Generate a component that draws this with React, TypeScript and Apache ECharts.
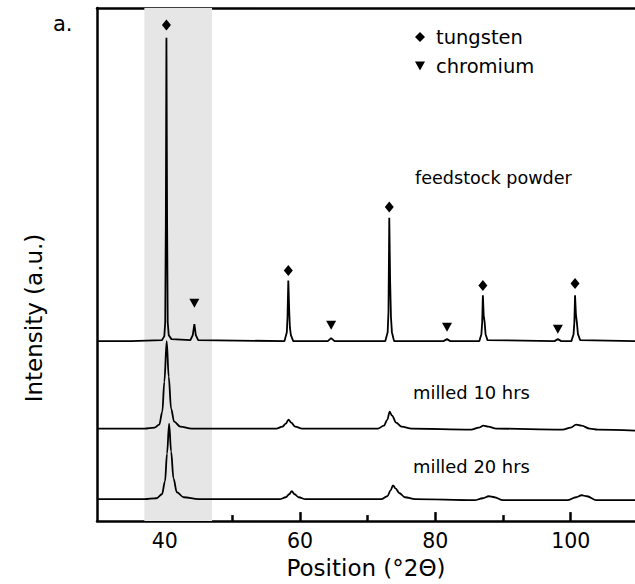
import React, { useEffect, useRef } from "react";
import * as echarts from "echarts";

const X_MIN = 30;
const X_MAX = 109.5;
const Y_MIN = 0;
const Y_MAX = 516;

const xTickLabels = [40, 60, 80, 100];
const xMinorTicks = [50, 70, 90];

const band = [37, 47];

const feedstock: [number, number][] = [
  [30, 181], [35, 181], [39.6, 182], [39.95, 186], [40.08, 200], [40.17, 300], [40.26, 486], [40.36, 300], [40.45, 200], [40.6, 187], [41.0, 183],
  [43.8, 182], [44.15, 187], [44.39, 198], [44.6, 187], [44.95, 182],
  [57.7, 181], [58.05, 190], [58.15, 205], [58.27, 242], [58.4, 212], [58.5, 195], [58.65, 187], [59.0, 181],
  [64.1, 181], [64.6, 184], [65.1, 181],
  [72.6, 181], [72.95, 190], [73.07, 210], [73.19, 305], [73.32, 240], [73.44, 205], [73.58, 190], [73.9, 181],
  [81.2, 181], [81.72, 183], [82.2, 181],
  [86.5, 181], [86.8, 188], [86.92, 200], [87.02, 227], [87.14, 207], [87.28, 200], [87.42, 188], [87.7, 182],
  [97.6, 181], [98.1, 183], [98.6, 181],
  [100.1, 181], [100.42, 188], [100.54, 200], [100.64, 227], [100.77, 208], [100.92, 199], [101.07, 188], [101.4, 182],
  [109.5, 181],
];

const milled10: [number, number][] = [
  [30, 93], [37, 93], [38.5, 94], [39.2, 97], [39.65, 110], [39.95, 140], [40.3, 181], [40.6, 145], [40.95, 113], [41.4, 100], [42.3, 95], [44, 93],
  [56.5, 93], [57.4, 95], [57.9, 98], [58.3, 102], [58.7, 99], [59.3, 95], [60.3, 93],
  [71.5, 93], [72.4, 96], [72.9, 102], [73.25, 110], [73.6, 106], [74.2, 99], [75, 95], [76.5, 93],
  [85.3, 92], [86.4, 94], [87.1, 96], [87.8, 95], [89, 93],
  [98.8, 92], [100, 94], [100.8, 97], [101.6, 96], [102.8, 93], [104, 92], [109.5, 91],
];

const milled20: [number, number][] = [
  [30, 22], [37, 22], [38.8, 23], [39.6, 27], [40.05, 40], [40.35, 68], [40.66, 98], [40.95, 70], [41.3, 43], [41.8, 29], [42.8, 24], [45, 22],
  [57, 22], [57.9, 24], [58.4, 27], [58.77, 30], [59.2, 27], [59.8, 24], [60.8, 22],
  [72, 22], [72.9, 25], [73.4, 31], [73.74, 36], [74.1, 33], [74.7, 28], [75.5, 24], [77, 22],
  [85.8, 21], [87, 23], [87.9, 25], [88.7, 24], [90, 21],
  [99.5, 21], [100.8, 24], [101.6, 26], [102.4, 25], [103.8, 21], [109.5, 21],
];

const tungstenMarks: [number, number][] = [
  [40.26, 499], [58.27, 252], [73.19, 316], [87.02, 237], [100.64, 239],
];

const chromiumMarks: [number, number][] = [
  [44.39, 219], [64.6, 197], [81.72, 195], [98.1, 193],
];

const FONT = "DejaVu Sans";
const DOWN_TRI = "path://M0,0L10,0L5,9Z";

export default function App() {
  const ref = useRef<HTMLDivElement>(null);

  useEffect(() => {
    if (!ref.current) return;
    const chart = echarts.init(ref.current, null, { renderer: "svg" });
    const lineStyle = { color: "#000", width: 1.8 };
    const axisCommon = {
      type: "value" as const,
      min: X_MIN,
      max: X_MAX,
      splitLine: { show: false },
    };
    chart.setOption({
      animation: false,
      backgroundColor: "#fff",
      textStyle: { fontFamily: FONT, color: "#000" },
      grid: { left: 97, right: 0, top: 8, bottom: 60, containLabel: false },
      legend: {
        left: 410,
        top: 22,
        orient: "vertical",
        itemGap: 9,
        itemWidth: 10,
        itemHeight: 10,
        itemStyle: { opacity: 1, color: "#000" },
        textStyle: { fontFamily: FONT, fontSize: 19.5, color: "#000", padding: [0, 0, 0, 6] },
        data: [
          { name: "tungsten", icon: "diamond" },
          { name: "chromium", icon: DOWN_TRI },
        ],
      },
      xAxis: [
        {
          ...axisCommon,
          position: "bottom",
          name: "Position (°2Θ)",
          nameLocation: "middle",
          nameGap: 32,
          nameTextStyle: { fontFamily: FONT, fontSize: 23, color: "#000" },
          axisLine: { show: true, lineStyle: { color: "#000", width: 2.5 } },
          axisTick: { show: true, inside: true, length: 9, lineStyle: { width: 2.5, color: "#000" }, customValues: xTickLabels },
          axisLabel: { show: true, fontFamily: FONT, fontSize: 20.5, color: "#000", margin: 9, customValues: xTickLabels },
        },
        {
          ...axisCommon,
          position: "bottom",
          axisLine: { show: false },
          axisTick: { show: true, inside: true, length: 6, lineStyle: { width: 2.5, color: "#000" }, customValues: xMinorTicks },
          axisLabel: { show: false },
        },
        {
          ...axisCommon,
          position: "top",
          axisLine: { show: true, lineStyle: { color: "#000", width: 2.5 } },
          axisTick: { show: false },
          axisLabel: { show: false },
        },
      ],
      yAxis: {
        type: "value",
        min: Y_MIN,
        max: Y_MAX,
        axisLine: { show: true, lineStyle: { color: "#000", width: 2.5 } },
        axisTick: { show: false },
        axisLabel: { show: false },
        splitLine: { show: false },
      },
      graphic: [
        { type: "text", left: 53, top: 13, style: { text: "a.", fontFamily: FONT, fontSize: 21, fill: "#000" } },
        {
          type: "text",
          x: 34,
          y: 318,
          rotation: Math.PI / 2,
          style: { text: "Intensity (a.u.)", fontFamily: FONT, fontSize: 23, fill: "#000", align: "center", verticalAlign: "middle" },
        },
        { type: "text", x: 415, y: 178, style: { text: "feedstock powder", fontFamily: FONT, fontSize: 17.6, fill: "#000", verticalAlign: "middle" } },
        { type: "text", x: 413, y: 392, style: { text: "milled 10 hrs", fontFamily: FONT, fontSize: 17.9, fill: "#000", verticalAlign: "middle" } },
        { type: "text", x: 413, y: 466, style: { text: "milled 20 hrs", fontFamily: FONT, fontSize: 17.9, fill: "#000", verticalAlign: "middle" } },
      ],
      series: [
        {
          name: "feedstock powder",
          type: "line",
          data: feedstock,
          showSymbol: false,
          lineStyle,
          z: 3,
          markArea: {
            silent: true,
            itemStyle: { color: "#e6e6e6" },
            data: [[{ xAxis: band[0] }, { xAxis: band[1] }]],
          },
        },
        { name: "milled 10 hrs", type: "line", data: milled10, showSymbol: false, smooth: 0.35, smoothMonotone: "x", lineStyle, z: 3 },
        { name: "milled 20 hrs", type: "line", data: milled20, showSymbol: false, smooth: 0.35, smoothMonotone: "x", lineStyle, z: 3 },
        {
          name: "tungsten",
          type: "scatter",
          data: tungstenMarks,
          symbol: "diamond",
          symbolSize: [9, 11],
          itemStyle: { color: "#000", opacity: 1 },
          z: 4,
        },
        {
          name: "chromium",
          type: "scatter",
          data: chromiumMarks,
          symbol: "triangle",
          symbolRotate: 180,
          symbolSize: [10, 9],
          itemStyle: { color: "#000", opacity: 1 },
          z: 4,
        },
      ],
    });
    return () => chart.dispose();
  }, []);

  return <div ref={ref} style={{ position: "absolute", left: 0, top: 0, width: 635, height: 584 }} />;
}
